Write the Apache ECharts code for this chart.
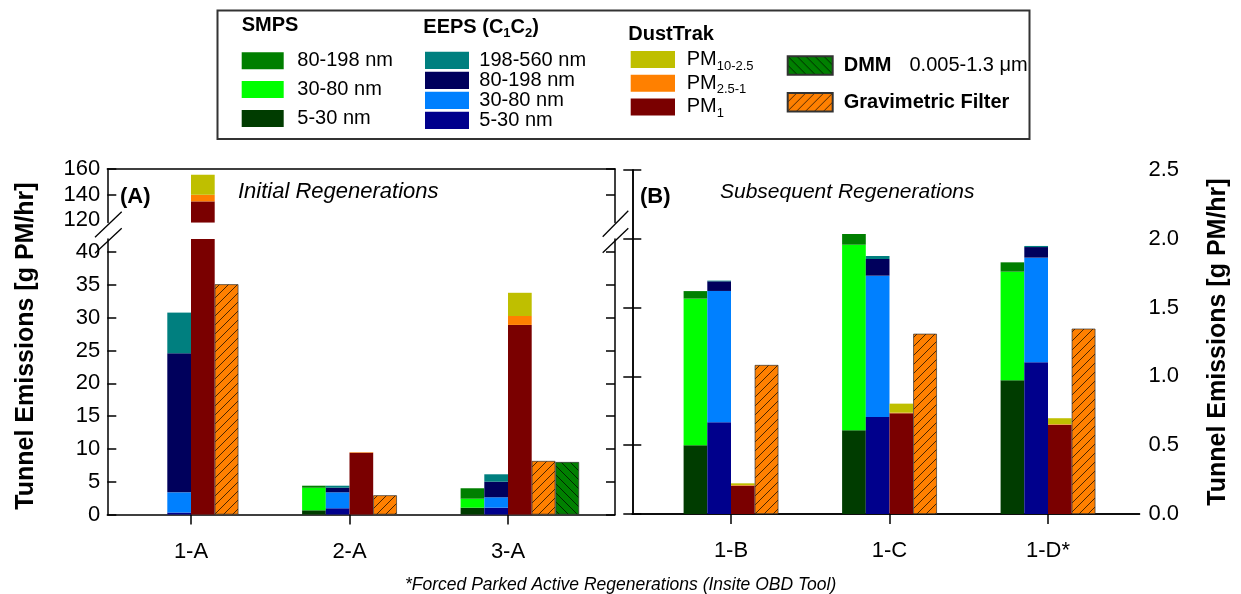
<!DOCTYPE html>
<html><head><meta charset="utf-8">
<script src="https://cdn.jsdelivr.net/npm/echarts@6/dist/echarts.min.js"></script>
<style>html,body{margin:0;padding:0;background:#fff}#c{width:1241px;height:594px}</style>
</head><body><div id="c"></div>
<script>
// ---------------- DATA ----------------
const catsA = ['1-A', '2-A', '3-A'];
const catsB = ['1-B', '1-C', '1-D*'];
const ticksA = [0, 5, 10, 15, 20, 25, 30, 35, 40];
const ticksAUpper = [120, 140, 160];
const ticksB = [0, 0.5, 1.0, 1.5, 2.0, 2.5];

// Panel A: Initial Regenerations [g PM/hr]
const smps5_30A   = [null, 0.64, 1.04];
const smps30_80A  = [null, 3.44, 1.37];
const smps80_198A = [null, 0.31, 1.59];
const eeps5_30A    = [0.30, 0.95, 1.04];
const eeps30_80A   = [3.08, 2.43, 1.58];
const eeps80_198A  = [21.2, 0.70, 2.38];
const eeps198_560A = [6.2, 0.31, 1.13];
const pm1A     = [134.6, 9.42, 28.9];
const pm25_1A  = [5.2, 0.08, 1.36];
const pm10_25A = [15.7, 0.0, 3.54];
const gravA = [35.1, 2.93, 8.16];
const dmmA  = [null, null, 8.0];

// Panel B: Subsequent Regenerations [g PM/hr]
const smps5_30B   = [0.50, 0.608, 0.972];
const smps30_80B  = [1.065, 1.349, 0.789];
const smps80_198B = [0.055, 0.078, 0.068];
const eeps5_30B    = [0.666, 0.705, 1.102];
const eeps30_80B   = [0.955, 1.027, 0.761];
const eeps80_198B  = [0.070, 0.121, 0.077];
const eeps198_560B = [0.005, 0.022, 0.008];
const pm1B     = [0.206, 0.732, 0.649];
const pm25_1B  = [0.004, 0.005, 0.004];
const pm10_25B = [0.013, 0.065, 0.043];
const gravB = [1.083, 1.31, 1.347];

// ---------------- STYLE ----------------
const F = "'Liberation Sans', Arial, Helvetica, sans-serif";
function hatch(bg, dir) {
  const s = 9, c = document.createElement('canvas');
  c.width = s; c.height = s;
  const g = c.getContext('2d');
  g.fillStyle = bg; g.fillRect(0, 0, s, s);
  g.strokeStyle = 'rgba(0,0,0,0.7)'; g.lineWidth = 1;
  g.beginPath();
  if (dir === '/') {
    g.moveTo(-1, s + 1); g.lineTo(s + 1, -1);
    g.moveTo(-2, 2); g.lineTo(2, -2);
    g.moveTo(s - 2, s + 2); g.lineTo(s + 2, s - 2);
  } else {
    g.moveTo(-1, -1); g.lineTo(s + 1, s + 1);
    g.moveTo(-2, s - 2); g.lineTo(2, s + 2);
    g.moveTo(s - 2, -2); g.lineTo(s + 2, 2);
  }
  g.stroke();
  return c;
}
const gravFill = { image: hatch('#FF8000', '/'), repeat: 'repeat' };
const dmmFill = { image: hatch('#008000', '\\'), repeat: 'repeat' };

const defs = [
  { name: 'SMPS 5-30 nm', stack: 'smps', color: '#003C00', A: smps5_30A, B: smps5_30B },
  { name: 'SMPS 30-80 nm', stack: 'smps', color: '#00FF00', A: smps30_80A, B: smps30_80B },
  { name: 'SMPS 80-198 nm', stack: 'smps', color: '#007F00', A: smps80_198A, B: smps80_198B },
  { name: 'EEPS 5-30 nm', stack: 'eeps', color: '#00008C', A: eeps5_30A, B: eeps5_30B },
  { name: 'EEPS 30-80 nm', stack: 'eeps', color: '#0080FF', A: eeps30_80A, B: eeps30_80B },
  { name: 'EEPS 80-198 nm', stack: 'eeps', color: '#00005C', A: eeps80_198A, B: eeps80_198B },
  { name: 'EEPS 198-560 nm', stack: 'eeps', color: '#007F7F', A: eeps198_560A, B: eeps198_560B },
  { name: 'PM1', stack: 'dt', color: '#7A0000', A: pm1A, B: pm1B },
  { name: 'PM2.5-1', stack: 'dt', color: '#FF8000', A: pm25_1A, B: pm25_1B },
  { name: 'PM10-2.5', stack: 'dt', color: '#BFBF00', A: pm10_25A, B: pm10_25B },
  { name: 'Gravimetric Filter', stack: 'grav', color: gravFill, border: true, A: gravA, B: gravB },
  { name: 'DMM', stack: 'dmm', color: dmmFill, border: true, A: dmmA, B: null }
];

const BW = 23.7;
function barSeries(d, data, xi, yi, tag) {
  return {
    type: 'bar', name: d.name, stack: tag + d.stack, data: data,
    xAxisIndex: xi, yAxisIndex: yi, barWidth: BW, barGap: '0%',
    itemStyle: { color: d.color, borderColor: d.border ? '#333' : 'transparent', borderWidth: d.border ? 0.7 : 0 },
    emphasis: { disabled: true }, animation: false
  };
}
const series = [];
// Panel A, lower and upper (broken axis) grids share the same data
[[1, 2, 'lo_'], [3, 5, 'up_']].forEach(([xi, yi, tag]) => {
  series.push({ type: 'bar', name: '_pad', stack: tag + 'pad', data: [null, null, null], xAxisIndex: xi, yAxisIndex: yi, barWidth: BW, barGap: '0%', animation: false });
  defs.forEach(d => series.push(barSeries(d, d.A, xi, yi, tag)));
});
defs.filter(d => d.B).forEach(d => series.push(barSeries(d, d.B, 6, 8, 'b_')));

// ---------------- AXES ----------------
const LINE = { show: true, lineStyle: { color: '#000', width: 1.5 } };
const TXT = { color: '#000', fontFamily: F, fontSize: 22 };
const frameX = (gi, pos) => ({ type: 'value', gridIndex: gi, position: pos, min: 0, max: 1, axisLine: LINE, axisTick: { show: false }, axisLabel: { show: false }, splitLine: { show: false } });
const catX = (gi, data, show) => ({
  type: 'category', gridIndex: gi, data: data, position: 'bottom', show: show,
  axisLine: { show: false },
  axisTick: { show: true, alignWithLabel: true, inside: false, length: 10, lineStyle: { color: '#000', width: 1.5 } },
  axisLabel: Object.assign({ margin: 26, interval: 0 }, TXT)
});
const hidY = (gi, min, max) => ({ type: 'value', gridIndex: gi, min: min, max: max, show: false, splitLine: { show: false } });
const tickY = (gi, pos, min, max, tickVals, labelVals, extra) => Object.assign({
  type: 'value', gridIndex: gi, position: pos, min: min, max: max,
  axisLine: LINE, splitLine: { show: false },
  axisTick: { show: true, inside: true, length: 9, customValues: tickVals, lineStyle: { color: '#000', width: 1.5 } },
  axisLabel: labelVals ? Object.assign({ show: true, customValues: labelVals, margin: 7 }, TXT) : { show: false }
}, extra || {});

const G = { L: 107.3, LW: 507.7, LB: 111.75, BW: 475.5, R: 632.3, RW: 507.2, RB: 651.75 };
const grid = [
  { left: G.L, top: 239, width: G.LW, height: 275.5 },
  { left: G.LB, top: 239, width: G.BW, height: 275.5 },
  { left: G.L, top: 169, width: G.LW, height: 53.55 },
  { left: G.LB, top: 169, width: G.BW, height: 53.55 },
  { left: G.R, top: 170, width: G.RW, height: 344 },
  { left: G.RB, top: 170, width: G.BW, height: 344 }
].map(g => Object.assign({ outerBoundsMode: 'none', containLabel: false }, g));

const xAxis = [
  frameX(0, 'bottom'),
  catX(1, catsA, true),
  frameX(2, 'top'),
  catX(3, catsA, false),
  frameX(4, 'bottom'),
  frameX(4, 'top'),
  catX(5, catsB, true)
];
const yAxis = [
  tickY(0, 'left', 0, 42, ticksA, ticksA, { interval: 5 }),
  tickY(0, 'right', 0, 42, ticksA, null, { interval: 5 }),
  hidY(1, 0, 42),
  tickY(2, 'left', 118, 160, [140, 160], ticksAUpper),
  tickY(2, 'right', 118, 160, [140, 160], null),
  hidY(3, 118, 160),
  tickY(4, 'left', 0, 2.5, ticksB, null, { interval: 0.5 }),
  tickY(4, 'right', 0, 2.5, ticksB, ticksB, {
    interval: 0.5,
    name: 'Tunnel Emissions [g PM/hr]', nameLocation: 'middle', nameRotate: 90, nameGap: 66,
    nameTextStyle: { color: '#000', fontFamily: F, fontSize: 25, fontWeight: 'bold' }
  }),
  hidY(5, 0, 2.5)
];
yAxis[7].axisLabel.formatter = v => Number(v).toFixed(1);
yAxis[7].axisLabel.margin = 9;

// ---------------- LEGENDS ----------------
const legBase = (o) => Object.assign({ orient: 'vertical', padding: 0, icon: 'rect', selectedMode: false }, o);
const legend = [
  legBase({ left: 241.7, top: 50.8, itemWidth: 42, itemHeight: 17, itemGap: 8.8,
    data: ['SMPS 80-198 nm', 'SMPS 30-80 nm', 'SMPS 5-30 nm'],
    formatter: n => n.replace('SMPS ', ''),
    textStyle: { color: '#000', fontFamily: F, fontSize: 20, lineHeight: 20, padding: [0, 0, 0, 8.6] } }),
  legBase({ left: 425, top: 50.4, itemWidth: 44, itemHeight: 17.3, itemGap: 0,
    data: ['EEPS 198-560 nm', 'EEPS 80-198 nm', 'EEPS 30-80 nm', 'EEPS 5-30 nm'],
    formatter: n => n.replace('EEPS ', ''),
    textStyle: { color: '#000', fontFamily: F, fontSize: 20, lineHeight: 20, padding: [0, 0, 0, 5.3] } }),
  legBase({ left: 630.7, top: 49.5, itemWidth: 44.3, itemHeight: 17, itemGap: 0.7,
    data: ['PM10-2.5', 'PM2.5-1', 'PM1'],
    formatter: n => '{m|PM}{s|' + n.slice(2) + '}',
    textStyle: { color: '#000', fontFamily: F, fontSize: 20, padding: [0, 0, 0, 6.7],
      rich: { m: { color: '#000', fontFamily: F, fontSize: 20, lineHeight: 26 },
              s: { color: '#000', fontFamily: F, fontSize: 13, lineHeight: 13, verticalAlign: 'bottom' } } } }),
  legBase({ left: 786.7, top: 55.25, itemWidth: 45, itemHeight: 18.5, itemGap: 16.3,
    data: ['DMM', 'Gravimetric Filter'],
    formatter: n => n === 'DMM' ? '{b|DMM}{r|0.005-1.3 μm}' : '{b|Gravimetric Filter}',
    textStyle: { color: '#000', fontFamily: F, fontSize: 20, lineHeight: 20, padding: [0, 0, 0, 6],
      rich: { b: { color: '#000', fontFamily: F, fontSize: 20, fontWeight: 'bold', lineHeight: 20 },
              r: { color: '#000', fontFamily: F, fontSize: 20, lineHeight: 20, padding: [0, 0, 0, 18] } } } })
];

// ---------------- ANNOTATIONS ----------------
const t = (x, y, text, o) => ({ type: 'text', x: x, y: y, silent: true, style: Object.assign({ text: text, fill: '#000', fontFamily: F, fontSize: 20, verticalAlign: 'middle' }, o || {}) });
const ln = (x1, y1, x2, y2) => ({ type: 'line', silent: true, shape: { x1, y1, x2, y2 }, style: { stroke: '#000', lineWidth: 1.3 } });
const graphic = [
  { type: 'rect', silent: true, shape: { x: 217.5, y: 10.5, width: 812, height: 128.5 }, style: { fill: 'none', stroke: '#333', lineWidth: 2 } },
  t(241.7, 25.7, 'SMPS', { fontWeight: 'bold' }),
  t(423.3, 27, '{h|EEPS (C}{s|1}{h|C}{s|2}{h|)}', { rich: {
    h: { fill: '#000', fontFamily: F, fontSize: 20, fontWeight: 'bold', lineHeight: 26 },
    s: { fill: '#000', fontFamily: F, fontSize: 13, fontWeight: 'bold', lineHeight: 13, verticalAlign: 'bottom' } } }),
  t(628.3, 34.5, 'DustTrak', { fontWeight: 'bold' }),
  t(120, 197, '(A)', { fontWeight: 'bold', fontSize: 22 }),
  t(238, 192, 'Initial Regenerations', { fontStyle: 'italic', fontSize: 22 }),
  t(640, 197, '(B)', { fontWeight: 'bold', fontSize: 22 }),
  t(720, 192, 'Subsequent Regenerations', { fontStyle: 'italic', fontSize: 21 }),
  t(405, 585, '*Forced Parked Active Regenerations (Insite OBD Tool)', { fontStyle: 'italic', fontSize: 17.5 }),
  { type: 'text', x: 26, y: 346, rotation: Math.PI / 2, silent: true,
    style: { text: 'Tunnel Emissions [g PM/hr]', fill: '#000', fontFamily: F, fontSize: 25, fontWeight: 'bold', align: 'center', verticalAlign: 'middle' } },
  ln(95, 237.3, 121.7, 211.7), ln(95, 253.3, 121.7, 228.3),
  ln(602.7, 236.7, 628.3, 210.7), ln(602.7, 252.7, 628.3, 228.3)
];

const chart = echarts.init(document.getElementById('c'), null, { renderer: 'canvas' });
chart.setOption({
  animation: false,
  backgroundColor: '#fff',
  textStyle: { fontFamily: F },
  grid, xAxis, yAxis, legend, series, graphic
});
</script></body></html>
